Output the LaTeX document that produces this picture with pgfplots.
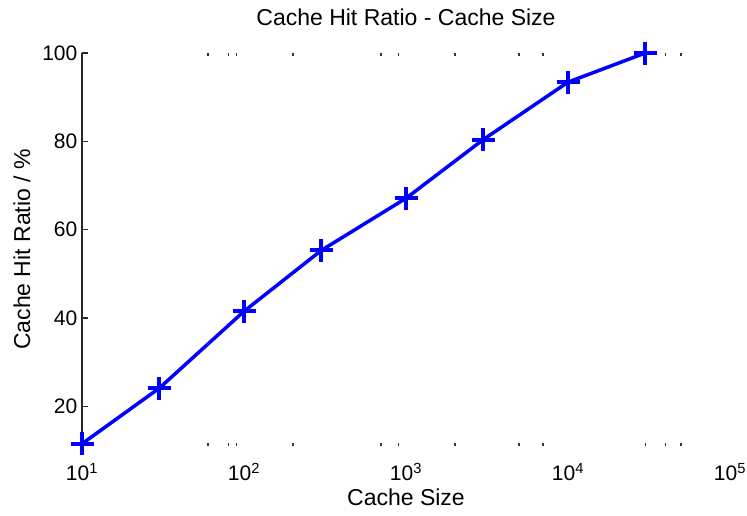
\documentclass[border=0pt]{standalone}
\usepackage{fontspec}
\setmainfont{Liberation Sans}
\usepackage{pgfplots}
\pgfplotsset{compat=1.18}
\definecolor{mblue}{RGB}{0,0,255}
\begin{document}
\begin{tikzpicture}
\useasboundingbox (-82pt,-70pt) rectangle (665pt,446pt);
\begin{axis}[
  at={(0pt,0pt)}, anchor=south west,
  scale only axis, width=648pt, height=393pt,
  xmode=log, xmin=10, xmax=100000, ymin=11, ymax=100,
  separate axis lines,
  axis x line=box, axis y line*=left,
  x axis line style={draw=none},
  y axis line style={line width=1.5pt, black!85},
  xtick={10,100,1000,10000,100000},
  xticklabels={10\textsuperscript{1},10\textsuperscript{2},10\textsuperscript{3},10\textsuperscript{4},10\textsuperscript{5}},
  minor xtick={60,80,90,200,700,900,2000,5000,7000,30000,40000,50000},
  ytick={20,40,60,80,100},
  tick align=inside,
  major tick length=6pt, minor tick length=3pt,
  major x tick style={draw=none},
  minor x tick style={line width=1.5pt, black!80},
  major y tick style={line width=1.5pt, black!85},
  /pgf/number format/assume math mode=true,
  ticklabel style={font=\fontsize{21}{25}\selectfont},
  xticklabel style={anchor=base, yshift=-35pt},
  yticklabel style={anchor=east, inner sep=0pt, xshift=-4.5pt},
  xlabel={Cache Size},
  ylabel={Cache Hit Ratio / \%},
  title={Cache Hit Ratio - Cache Size},
  title style={font=\fontsize{23}{27}\selectfont, at={(axis description cs:0.5,1.0763)}, anchor=center},
  xlabel style={font=\fontsize{23}{27}\selectfont, at={(axis description cs:0.5,-0.1298)}, anchor=center},
  ylabel style={font=\fontsize{23}{27}\selectfont, at={(axis description cs:-0.0926,0.5)}, anchor=center},
  clip=false,
]
\addplot[mblue, line width=3.5pt, mark=+, mark size=11.5pt, mark options={line width=4pt}]
coordinates {
(10,11.5) (30,24.1) (100,41.5) (300,55.3) (1000,67.1) (3000,80.4) (10000,93.4) (30000,100)
};
\end{axis}
\end{tikzpicture}
\end{document}
